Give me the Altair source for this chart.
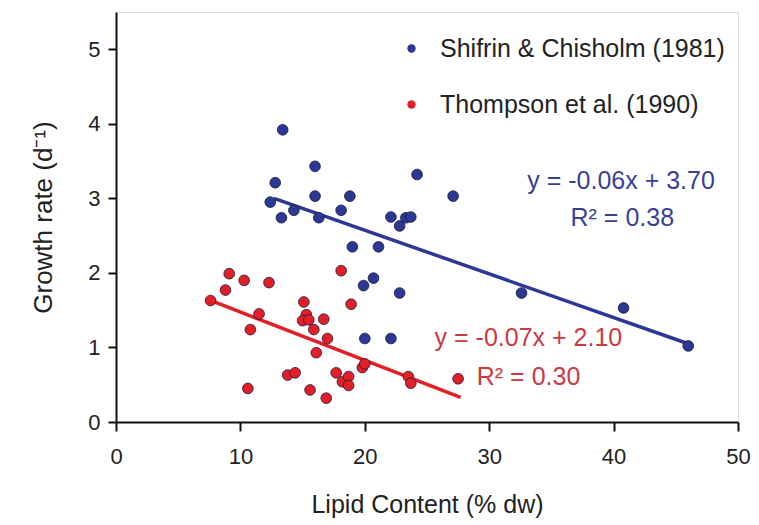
import altair as alt
import pandas as pd

# ---- data ----
series_names = ["Shifrin & Chisholm (1981)", "Thompson et al. (1990)"]

blue_x = [13.4, 12.8, 12.4, 13.3, 14.3, 16.0, 16.0, 16.3, 18.1, 18.8, 19.0, 21.1, 22.1,
          22.8, 23.3, 23.7, 24.2, 27.1, 20.7, 19.9, 22.8, 20.0, 22.1, 32.6, 40.8, 46.0]
blue_y = [3.92, 3.21, 2.95, 2.74, 2.84, 3.43, 3.03, 2.74, 2.84, 3.03, 2.35, 2.35, 2.75,
          2.63, 2.74, 2.75, 3.32, 3.03, 1.93, 1.83, 1.73, 1.12, 1.12, 1.73, 1.53, 1.02]

red_x = [7.6, 8.8, 9.1, 10.3, 12.3, 11.5, 10.8, 10.6, 13.8, 14.4, 15.1, 15.3, 15.0, 15.5,
         15.9, 16.7, 17.0, 16.1, 15.6, 16.9, 18.1, 18.9, 17.7, 18.2, 18.7, 18.7, 19.8,
         20.0, 23.5, 23.7, 27.5]
red_y = [1.63, 1.77, 1.99, 1.90, 1.87, 1.45, 1.24, 0.45, 0.63, 0.66, 1.61, 1.44, 1.36, 1.37,
         1.24, 1.38, 1.12, 0.93, 0.43, 0.32, 2.03, 1.58, 0.66, 0.54, 0.61, 0.49, 0.73,
         0.78, 0.61, 0.52, 0.58]

fit_blue_x = [12.7, 46.0]
fit_blue_y = [3.00, 1.05]
fit_red_x = [7.6, 27.7]
fit_red_y = [1.63, 0.33]

eq_text = ["y = -0.06x + 3.70", "R\u00b2 = 0.38", "y = -0.07x + 2.10", "R\u00b2 = 0.30"]
eq_x = [40.6, 40.7, 33.15, 29.0]
eq_y = [3.23, 2.74, 1.13, 0.60]
eq_series = [series_names[0], series_names[0], series_names[1], series_names[1]]
eq_align = ["center", "center", "center", "left"]

x_ticks = [0, 10, 20, 30, 40, 50]
y_ticks = [0, 1, 2, 3, 4, 5]

BLUE = "#2c3892"
RED = "#e21f26"
FONT = "Liberation Sans"

# ---- tables ----
pts = pd.DataFrame({
    "x": blue_x + red_x,
    "y": blue_y + red_y,
    "series": [series_names[0]] * len(blue_x) + [series_names[1]] * len(red_x),
})
fits = pd.DataFrame({
    "x": fit_blue_x + fit_red_x,
    "y": fit_blue_y + fit_red_y,
    "series": [series_names[0]] * 2 + [series_names[1]] * 2,
})
eqs = pd.DataFrame({"text": eq_text, "x": eq_x, "y": eq_y, "series": eq_series, "align": eq_align})

xs = alt.Scale(domain=[0, 50], nice=False, zero=False)
ys = alt.Scale(domain=[0, 5.5], nice=False, zero=False)
cs = alt.Scale(domain=series_names, range=[BLUE, RED])
ts = alt.Scale(domain=series_names, range=["#3a3f96", "#c9393f"])

x_axis = alt.Axis(values=x_ticks, format="d", title="Lipid Content (% dw)", grid=False, tickSize=9,
                  labelPadding=15, titlePadding=25, labelFontSize=22, titleFontSize=25,
                  domainColor="#111", tickColor="#111", domainWidth=2, tickWidth=2,
                  labelColor="#222", titleColor="#222", titleFontWeight="normal",
                  labelFont=FONT, titleFont=FONT, labelFlush=False)
y_axis = alt.Axis(values=y_ticks, format="d", title="Growth rate (d\u207b\u00b9)", grid=False, tickSize=8,
                  labelPadding=8, titlePadding=31, labelFontSize=22, titleFontSize=26,
                  domainColor="#111", tickColor="#111", domainWidth=2, tickWidth=2,
                  labelColor="#222", titleColor="#222", titleFontWeight="normal",
                  labelFont=FONT, titleFont=FONT, labelFlush=False)

points = alt.Chart(pts).mark_circle(size=115, opacity=1, stroke="#1a1a40", strokeWidth=0.8).encode(
    x=alt.X("x:Q", scale=xs, axis=x_axis),
    y=alt.Y("y:Q", scale=ys, axis=y_axis),
    color=alt.Color("series:N", scale=cs, legend=alt.Legend(
        title=None, orient="none", legendX=283, legendY=24, labelFontSize=25,
        labelFont=FONT, labelColor="#222", labelLimit=0, symbolSize=70, symbolType="circle",
        symbolStrokeWidth=0, labelOffset=16, rowPadding=30, padding=0)),
)

lines = alt.Chart(fits).mark_line(strokeWidth=3.5).encode(
    x=alt.X("x:Q", scale=xs),
    y=alt.Y("y:Q", scale=ys),
    detail="series:N",
    color=alt.Color("series:N", scale=cs, legend=None),
)

txt_c = alt.Chart(eqs).transform_filter(alt.datum.align == "center").mark_text(
    fontSize=25, font=FONT, align="center", baseline="middle").encode(
    x=alt.X("x:Q", scale=xs), y=alt.Y("y:Q", scale=ys), text="text:N",
    color=alt.Color("series:N", scale=ts, legend=None),
)
txt_l = alt.Chart(eqs).transform_filter(alt.datum.align == "left").mark_text(
    fontSize=25, font=FONT, align="left", baseline="middle").encode(
    x=alt.X("x:Q", scale=xs), y=alt.Y("y:Q", scale=ys), text="text:N",
    color=alt.Color("series:N", scale=ts, legend=None),
)

chart = alt.layer(lines, points, txt_c, txt_l).resolve_scale(color="independent").properties(
    width=622, height=410,
    autosize=alt.AutoSizeParams(type="none"),
    padding={"left": 108, "top": 4, "right": 13, "bottom": 100},
).configure_view(stroke="#a8a8a8", strokeWidth=1.5).configure(background="white")

chart.save("out.html", embed_options={"renderer": "svg", "actions": False})
